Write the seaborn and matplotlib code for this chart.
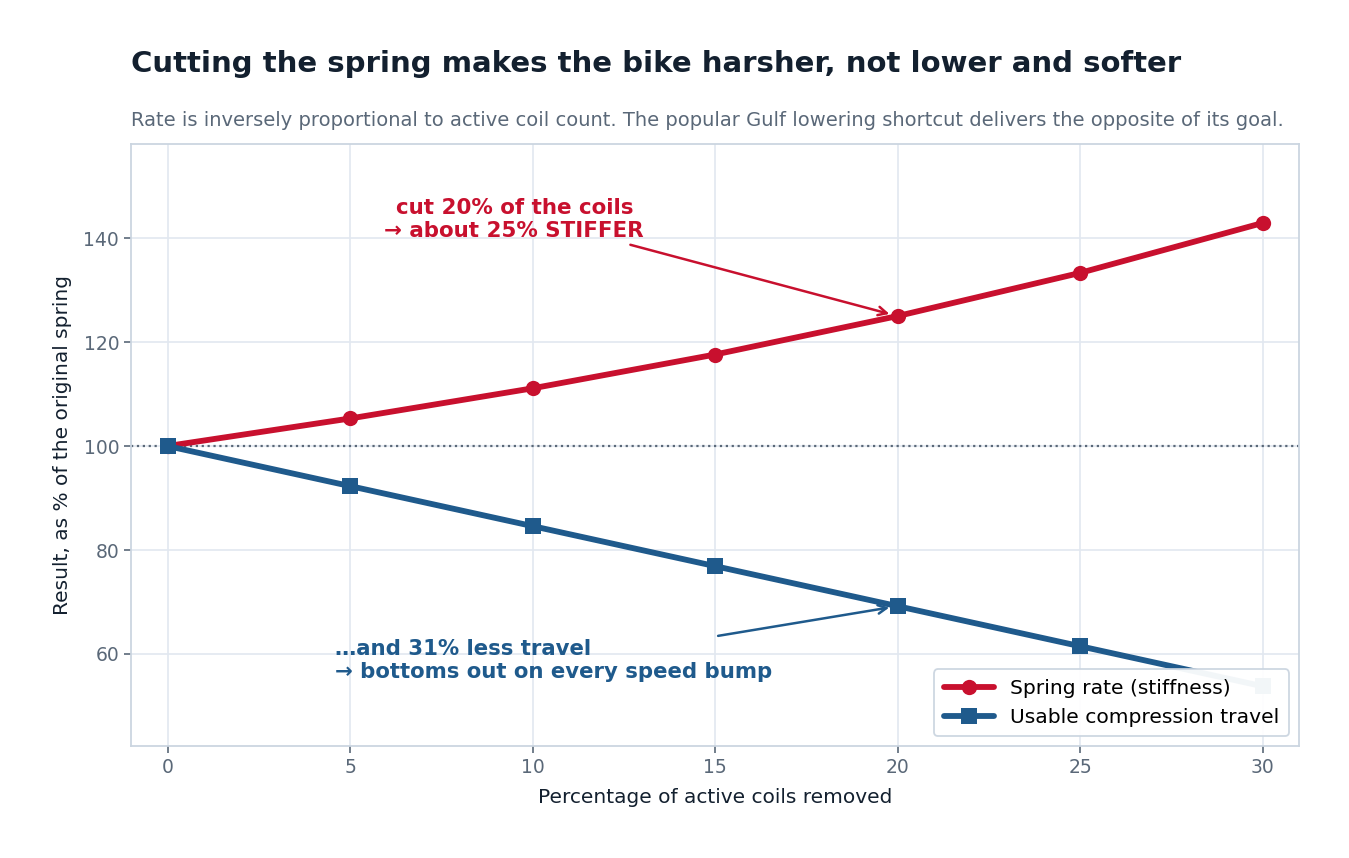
import numpy as np
import pandas as pd
import matplotlib
matplotlib.use("Agg")
import matplotlib.pyplot as plt
import seaborn as sns

# values
coils_removed = [0, 5, 10, 15, 20, 25, 30]
spring_rate = [100.0, 105.3, 111.1, 117.6, 125.0, 133.3, 142.9]
usable_travel = [100.0, 92.3, 84.6, 76.9, 69.2, 61.5, 53.8]
series_names = ["Spring rate (stiffness)", "Usable compression travel"]

RED = "#C8102E"
BLUE = "#1F5A8C"
DARK = "#13202F"
GREY = "#5A6878"
GRID = "#E2E8F0"
EDGE = "#CBD5E0"

df = pd.DataFrame({
    "removed": coils_removed * 2,
    "value": spring_rate + usable_travel,
    "series": [series_names[0]] * len(coils_removed) + [series_names[1]] * len(coils_removed),
})

sns.set_theme(style="whitegrid")
plt.rcParams['font.family'] = ['DejaVu Sans']

fig = plt.figure(figsize=(13.49, 8.58), dpi=100)
ax = fig.add_axes([131 / 1349, 1 - 746 / 858, (1299 - 131) / 1349, (746 - 144) / 858])

sns.lineplot(data=df, x="removed", y="value", hue="series", style="series",
             markers={series_names[0]: "o", series_names[1]: "s"}, dashes=False,
             palette={series_names[0]: RED, series_names[1]: BLUE},
             linewidth=4.2, markersize=11, markeredgewidth=0, ax=ax, zorder=3)

ax.axhline(100, color=GREY, linestyle=":", linewidth=1.6, zorder=2)

ax.set_xlim(-1, 31)
ax.set_ylim(42.3, 158.1)
ax.set_xticks(coils_removed)
ax.set_yticks([60, 80, 100, 120, 140])

ax.grid(True, color=GRID, linewidth=1.2)
for s in ax.spines.values():
    s.set_color(EDGE)
    s.set_linewidth(1.3)
ax.tick_params(axis="both", colors=GREY, labelsize=13.5, length=5, width=1.2, bottom=True, left=True)
for lbl in ax.get_xticklabels() + ax.get_yticklabels():
    lbl.set_color(GREY)

ax.set_xlabel("Percentage of active coils removed", fontsize=14.5, color=DARK, labelpad=8)
ax.set_ylabel("Result, as % of the original spring", fontsize=14.5, color=DARK, labelpad=8)

# annotations
ax.annotate("cut 20% of the coils\n→ about 25% STIFFER", xy=(20, spring_rate[4]), xytext=(9.5, 143.5),
            ha="center", va="center", fontsize=15.4, fontweight="bold", color=RED,
            arrowprops=dict(arrowstyle="->", color=RED, lw=1.8, shrinkA=0, shrinkB=6,
                            relpos=(0.9, 0.0)))
ax.annotate("…and 31% less travel\n→ bottoms out on every speed bump", xy=(20, usable_travel[4]),
            xytext=(4.6, 58.7), ha="left", va="center", fontsize=15.3, fontweight="bold", color=BLUE,
            arrowprops=dict(arrowstyle="->", color=BLUE, lw=1.8, shrinkA=0, shrinkB=6,
                            relpos=(0.83, 1.0)))

leg = ax.legend(loc="lower right", fontsize=14.6, frameon=True, framealpha=0.95,
                edgecolor=EDGE, handlelength=2.5, borderpad=0.45)
leg.get_frame().set_linewidth(1.3)
for t in leg.get_texts():
    t.set_color("black")
for line in leg.get_lines():
    line.set_linewidth(4.2)

fig.text(131 / 1349, 1 - 64 / 858, "Cutting the spring makes the bike harsher, not lower and softer",
         fontsize=21, fontweight="bold", color=DARK, va="center", ha="left")
fig.text(131 / 1349, 1 - 120 / 858,
         "Rate is inversely proportional to active coil count. The popular Gulf lowering shortcut delivers the opposite of its goal.",
         fontsize=14, color=GREY, va="center", ha="left")

fig.savefig("out.png", dpi=100)
